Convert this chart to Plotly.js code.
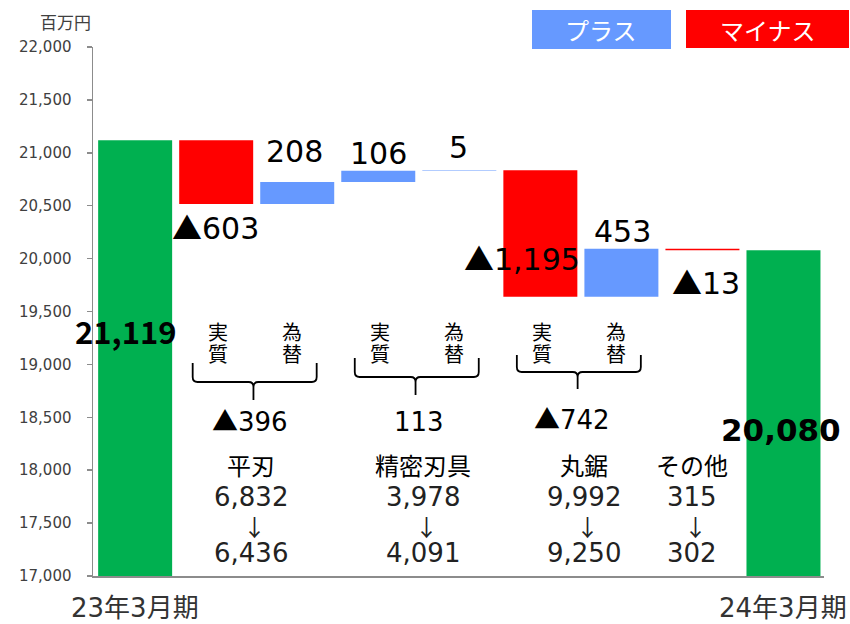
<!DOCTYPE html>
<html><head><meta charset="utf-8">
<script src="https://cdn.plot.ly/plotly-3.0.1.min.js"></script>
<style>body{margin:0;background:#fff}</style>
</head><body><div id="chart" style="width:850px;height:624px"></div>
<script>
// ---- data ----
const categories = ["23年3月期","平刃 実質","平刃 為替","精密刃具 実質","精密刃具 為替","丸鋸 実質","丸鋸 為替","その他","24年3月期"];
const measures = ["absolute","relative","relative","relative","relative","relative","relative","relative","total"];
const values = [21119,-603,208,106,5,-1195,453,-13,20080];
const valueLabels = ["21,119","▲603","208","106","5","▲1,195","453","▲13","20,080"];
const groupNames = ["平刃","精密刃具","丸鋸","その他"];
const groupTotals = ["▲396","113","▲742"];
const groupBefore = ["6,832","3,978","9,992","315"];
const groupAfter = ["6,436","4,091","9,250","302"];
const xTickLabels = ["23年3月期","24年3月期"];
const legendLabels = ["プラス","マイナス"];

// ---- geometry helpers ----
const W=850,H=624,L=93,R=26,T=47,B=48;
const xRange=[-0.52,8.5], yRange=[17000,22000];
const pw=W-L-R, ph=H-T-B;
const px2x = px => xRange[0]+(px-L)/pw*(xRange[1]-xRange[0]);
const py2y = py => yRange[0]+(T+ph-py)/ph*(yRange[1]-yRange[0]);
const px2p = px => (px-L)/pw;
const py2p = py => (T+ph-py)/ph;

const NUM = "DejaVu Sans, Noto Sans CJK JP, sans-serif";
const CJK = "Noto Sans CJK JP, sans-serif";
const tri = s => s.replace("▲","<span style=\"font-family:'Noto Sans CJK JP'\">▲</span>");

const idx = categories.map((c,i)=>i);

// cumulative ends
let run=0; const lo=[], hi=[];
values.forEach((v,i)=>{
  let s,e;
  if(measures[i]==="absolute"){s=0;e=v;}
  else if(measures[i]==="total"){s=0;e=run;}
  else {s=run;e=run+v;}
  run=e; lo.push(Math.min(s,e)); hi.push(Math.max(s,e));
});

const trace = {
  type:"waterfall", x: idx, y: values, measure: measures, width: 0.913,
  increasing:{marker:{color:"#6699FF"}},
  decreasing:{marker:{color:"#FF0000"}},
  totals:{marker:{color:"#00B050"}},
  connector:{visible:false}, textinfo:"none", hoverinfo:"skip"
};

const annotations=[], shapes=[];

// bar value labels
const labelSpec = [
  {end:"hi",dx:-9,dy:-190,size:31,bold:true,fam:CJK},
  {end:"lo",dx:-0.5,dy:-22,size:30},
  {end:"hi",dx:-2.7,dy:31,size:30},
  {end:"hi",dx:0.3,dy:17,size:30},
  {end:"hi",dx:-1.3,dy:23,size:30},
  {end:"lo",dx:-18.8,dy:39.7,size:30},
  {end:"hi",dx:0.7,dy:17.5,size:30},
  {end:"lo",dx:3.6,dy:-31.3,size:30},
  {end:"hi",dx:-2,dy:-180,size:31,bold:true}
];
labelSpec.forEach((s,i)=>{
  const t = tri(valueLabels[i]);
  annotations.push({x:idx[i], y:(s.end==="hi"?hi[i]:lo[i]), xref:"x", yref:"y",
    xshift:s.dx, yshift:s.dy, text: s.bold?"<b>"+t+"</b>":t, showarrow:false,
    xanchor:"center", yanchor:"middle", font:{family:s.fam||NUM,size:s.size,color:"#000"}});
});

// braces + 実質/為替 + group totals
const braceGroups = [
  {a:1, top:363, mid:382, bot:400, lab:419.5, labx:250},
  {a:3, top:358, mid:377, bot:395, lab:422, labx:419},
  {a:5, top:355, mid:372, bot:389, lab:417.5, labx:572}
];
const rx=0.06, ry=5*(yRange[1]-yRange[0])/ph;
braceGroups.forEach((g,k)=>{
  const xl=g.a-0.29, xr=g.a+1.24, xc=g.a+0.46;
  const yT=py2y(g.top), yM=py2y(g.mid), yB=py2y(g.bot);
  const path = `M${xl},${yT} L${xl},${yM+ry} Q${xl},${yM} ${xl+rx},${yM} L${xc-rx},${yM} Q${xc},${yM} ${xc},${yM-ry} L${xc},${yB} `+
               `M${xc},${yM-ry} Q${xc},${yM} ${xc+rx},${yM} L${xr-rx},${yM} Q${xr},${yM} ${xr},${yM+ry} L${xr},${yT}`;
  shapes.push({type:"path", xref:"x", yref:"y", path, line:{color:"#000",width:1.8}});
  const chars=[["実","質",2],["為","替",-5]];
  chars.forEach((c,j)=>{
    [c[0],c[1]].forEach((ch,m)=>{
      annotations.push({x:g.a+j, y:py2y(331+22*m), xref:"x", yref:"y", xshift:c[2],
        text:ch, showarrow:false, xanchor:"center", yanchor:"middle",
        font:{family:CJK,size:20,color:"#000"}});
    });
  });
  annotations.push({x:px2x(g.labx), y:py2y(g.lab), xref:"x", yref:"y", text:tri(groupTotals[k]),
    showarrow:false, xanchor:"center", yanchor:"middle", font:{family:NUM,size:26,color:"#000"}});
});

// segment before/after texts
const segX=[251,423,584,692];
groupNames.forEach((n,k)=>{
  const x=px2x(segX[k]);
  annotations.push({x, y:py2y(464), xref:"x", yref:"y", text:n, showarrow:false,
    xanchor:"center", yanchor:"middle", font:{family:CJK,size:24,color:"#000"}});
  annotations.push({x, y:py2y(497), xref:"x", yref:"y", text:groupBefore[k], showarrow:false,
    xanchor:"center", yanchor:"middle", font:{family:NUM,size:26,color:"#222"}});
  annotations.push({x, y:py2y(526), xref:"x", yref:"y", xshift:3, text:"↓", showarrow:false,
    xanchor:"center", yanchor:"middle", font:{family:CJK,size:23,color:"#222"}});
  annotations.push({x, y:py2y(552.5), xref:"x", yref:"y", text:groupAfter[k], showarrow:false,
    xanchor:"center", yanchor:"middle", font:{family:NUM,size:26,color:"#222"}});
});

// category labels (first and last period) under the axis
[idx[0], idx[idx.length-1]].forEach((xi,k)=>{
  annotations.push({x:xi, y:py2p(608), xref:"x", yref:"paper", text:xTickLabels[k], showarrow:false,
    xanchor:"center", yanchor:"middle", font:{family:NUM,size:26,color:"#333"}});
});

// unit label
annotations.push({x:px2p(65), y:py2p(22), xref:"paper", yref:"paper", text:"百万円", showarrow:false,
  xanchor:"center", yanchor:"middle", font:{family:CJK,size:17,color:"#404040"}});

// legend boxes
const legendBoxes=[{x0:532,x1:671,y0:10,y1:49,color:"#6699FF",tx:601},{x0:686,x1:849,y0:10,y1:48,color:"#FF0000",tx:768}];
legendBoxes.forEach((b,k)=>{
  shapes.push({type:"rect", xref:"paper", yref:"paper", x0:px2p(b.x0), x1:px2p(b.x1), y0:py2p(b.y1), y1:py2p(b.y0),
    fillcolor:b.color, line:{width:0}, layer:"above"});
  annotations.push({x:px2p(b.tx), y:py2p(29.5), xref:"paper", yref:"paper", text:legendLabels[k], showarrow:false,
    xanchor:"center", yanchor:"middle", font:{family:CJK,size:24,color:"#fff"}});
});

const layout = {
  width:W, height:H, margin:{l:L,r:R,t:T,b:B,pad:0},
  paper_bgcolor:"#fff", plot_bgcolor:"#fff", showlegend:false,
  xaxis:{type:"linear", range:xRange, showticklabels:false,
    showgrid:false, zeroline:false, showline:true, linecolor:"#8c8c8c", linewidth:1.5, ticks:""},
  yaxis:{range:yRange, dtick:500, tickformat:",d", showgrid:false, zeroline:false,
    showline:true, linecolor:"#8c8c8c", linewidth:1.5, ticks:"outside", ticklen:5, tickwidth:1.5, tickcolor:"#8c8c8c",
    ticklabelstandoff:12, tickfont:{family:NUM,size:15,color:"#404040"}},
  annotations, shapes
};
Plotly.newPlot("chart",[trace],layout,{staticPlot:true,displayModeBar:false});
</script></body></html>
